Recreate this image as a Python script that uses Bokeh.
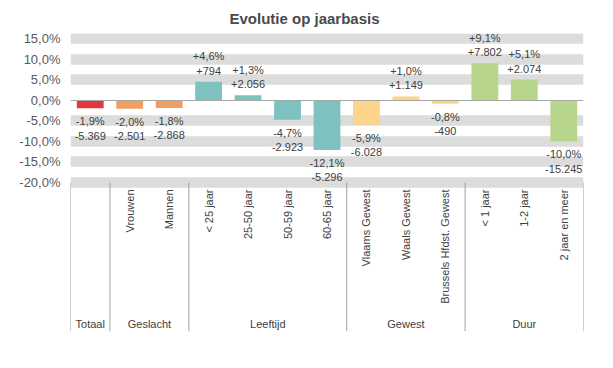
import numpy as np
from bokeh.plotting import figure
from bokeh.models import ColumnDataSource, Range1d, FixedTicker, Span
from bokeh.core.properties import value
from bokeh.embed import file_html
from bokeh.resources import INLINE

# ---- data ----
categories = ["", "Vrouwen", "Mannen", "< 25 jaar", "25-50 jaar", "50-59 jaar",
              "60-65 jaar", "Vlaams Gewest", "Waals Gewest", "Brussels Hfdst. Gewest",
              "< 1 jaar", "1-2 jaar", "2 jaar en meer"]
groups = ["Totaal", "Geslacht", "Leeftijd", "Gewest", "Duur"]
group_sizes = [1, 2, 4, 3, 3]
pct_change = [-1.9, -2.0, -1.8, 4.6, 1.3, -4.7, -12.1, -5.9, 1.0, -0.8, 9.1, 5.1, -10.0]
abs_change = [-5369, -2501, -2868, 794, 2056, -2923, -5296, -6028, 1149, -490, 7802, 2074, -15245]
y_ticks = [-20, -15, -10, -5, 0, 5, 10, 15]

# ---- styles ----
group_colors = ["#E1373D", "#F29E63", "#7EC2C0", "#FDD489", "#B7D58B"]
FONT = "Liberation Sans"
TXT = "#404040"
Y_MIN, Y_MAX = -56.34, 16.34

n = len(categories)
xs = np.arange(n) + 0.5
colors = [c for c, s in zip(group_colors, group_sizes) for _ in range(s)]


def fmt_pct(v):
    return f"{v:+.1f}%".replace(".", ",")


def fmt_cnt(v):
    return f"{v:+,d}".replace(",", ".")


labels = [fmt_pct(p) + "\n" + fmt_cnt(a) for p, a in zip(pct_change, abs_change)]

src = ColumnDataSource(dict(x=xs, pct=pct_change, color=colors, label=labels, cat=categories))
pos = ColumnDataSource(dict(x=[x for x, p in zip(xs, pct_change) if p >= 0],
                            y=[p for p in pct_change if p >= 0],
                            label=[l for l, p in zip(labels, pct_change) if p >= 0]))
neg = ColumnDataSource(dict(x=[x for x, p in zip(xs, pct_change) if p < 0],
                            y=[p for p in pct_change if p < 0],
                            label=[l for l, p in zip(labels, pct_change) if p < 0]))

p = figure(width=597, height=340, output_backend="svg", toolbar_location=None,
           x_range=Range1d(0, n), y_range=Range1d(Y_MIN, Y_MAX),
           x_axis_location=None, min_border_left=70, min_border_right=14,
           min_border_top=33, min_border_bottom=9)
p.outline_line_color = None
p.background_fill_color = "white"

p.title.text = "Evolutie op jaarbasis"
p.title.align = "left"
p.title.offset = 159
p.title.text_font = FONT
p.title.text_font_size = "15px"
p.title.text_font_style = "bold"
p.title.text_color = "#4a4a4a"
p.title.standoff = 14

# y axis
p.yaxis.ticker = FixedTicker(ticks=y_ticks)
p.yaxis.major_label_overrides = {t: f"{t:.1f}%".replace(".", ",") for t in y_ticks}
p.yaxis.axis_line_color = None
p.yaxis.major_tick_line_color = None
p.yaxis.minor_tick_line_color = None
p.yaxis.major_tick_out = 0
p.yaxis.major_tick_in = 0
p.yaxis.major_label_standoff = 10
p.yaxis.major_label_text_font = FONT
p.yaxis.major_label_text_font_size = "13px"
p.yaxis.major_label_text_color = "#595959"

# grid bands
p.xgrid.visible = False
p.ygrid.ticker = FixedTicker(ticks=[t for t in y_ticks if t != 0])
p.ygrid.grid_line_color = "#DCDCDC"
p.ygrid.grid_line_width = 10.5

p.add_layout(Span(location=0, dimension="width", line_color="#A6A6A6", line_width=1))

# bars
p.vbar(x="x", top="pct", bottom=0, width=0.68, source=src,
       fill_color="color", line_color=None)

# data labels
p.text(x="x", y="y", text="label", source=pos, text_align="center",
       text_baseline="bottom", y_offset=-5, text_font=value(FONT),
       text_font_size="11px", text_color=TXT, text_line_height=1.2)
p.text(x="x", y="y", text="label", source=neg, text_align="center",
       text_baseline="top", y_offset=7, text_font=value(FONT),
       text_font_size="11px", text_color=TXT, text_line_height=1.2)

# category separators
bounds = np.concatenate([[0], np.cumsum(group_sizes)])
p.segment(x0=bounds, y0=[y_ticks[0]] * len(bounds), x1=bounds, y1=[Y_MIN] * len(bounds),
          line_color="#A0A0A0", line_width=1)

# category labels (rotated)
p.text(x="x", y=y_ticks[0], text="cat", source=src, angle=np.pi / 2,
       text_align="right", text_baseline="middle", y_offset=7,
       text_font=value(FONT), text_font_size="11px", text_color=TXT)

# group labels
gx = bounds[:-1] + np.array(group_sizes) / 2
p.text(x=gx, y=[Y_MIN] * len(groups), text=groups, text_align="center",
       text_baseline="middle", y_offset=-8, text_font=value(FONT),
       text_font_size="11px", text_color=TXT)

open("out.html", "w").write(file_html(p, INLINE))
